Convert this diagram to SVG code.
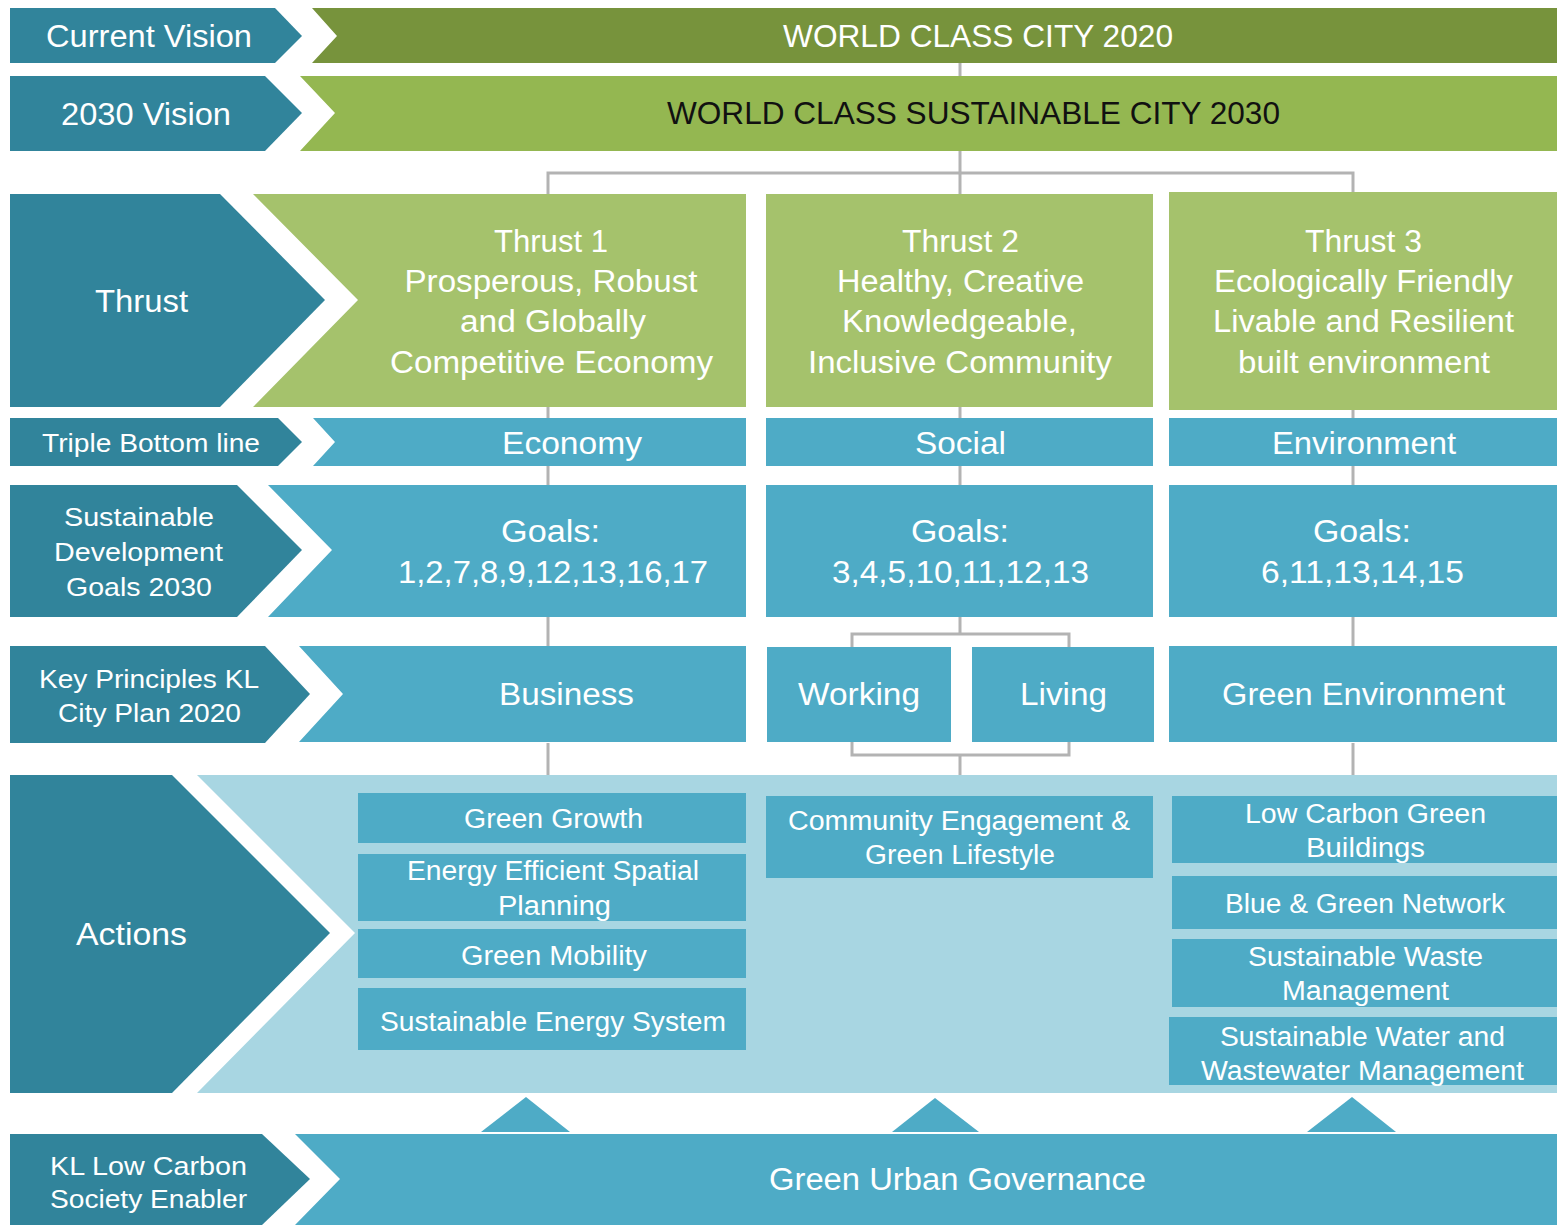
<svg xmlns="http://www.w3.org/2000/svg" width="1557" height="1225" viewBox="0 0 1557 1225">
<style>
.lab{fill:#31849B}
.blue{fill:#4EABC6}
.g1{fill:#77933C}
.g2{fill:#94B751}
.g3{fill:#A5C26C}
.light{fill:#A8D6E2}
.conn{stroke:#B3B3B3;stroke-width:3;fill:none}
text{font-family:"Liberation Sans",Arial,sans-serif;fill:#fff;text-anchor:middle}
.t31{font-size:31px}
.t27{font-size:27px}
.t26{font-size:26px}
.dark{fill:#111}
</style>
<rect width="1557" height="1225" fill="#fff"/>
<g id="connectors">
<path class="conn" d="M960 63V76M960 150V194M548 194V173H1353V194"/>
<path class="conn" d="M548 407V418M960 407V418M1353 407V418"/>
<path class="conn" d="M548 466V485M960 466V485M1353 466V485"/>
<path class="conn" d="M548 617V646M1353 617V646M960 617V634M852 647V634H1069V647"/>
<path class="conn" d="M548 743V775M1353 743V775M852 742V755H1069V742M960 755V775"/>
</g>
<g id="current-vision">
<polygon class="lab" points="10,8 275,8 302,36 275,63 10,63"/>
<text class="t31" x="149" y="47" textLength="206" lengthAdjust="spacingAndGlyphs">Current Vision</text>
</g>
<g id="world-class-2020">
<polygon class="g1" points="312,8 1557,8 1557,63 312,63 337,36"/>
<text class="t31" x="978" y="47" textLength="390" lengthAdjust="spacingAndGlyphs">WORLD CLASS CITY 2020</text>
</g>
<g id="vision-2030">
<polygon class="lab" points="10,76 265,76 302,113 265,151 10,151"/>
<text class="t31" x="146" y="125" textLength="170" lengthAdjust="spacingAndGlyphs">2030 Vision</text>
</g>
<g id="world-class-2030">
<polygon class="g2" points="300,76 1557,76 1557,151 300,151 335,113"/>
<text class="t31 dark" x="973.5" y="124" textLength="613" lengthAdjust="spacingAndGlyphs">WORLD CLASS SUSTAINABLE CITY 2030</text>
</g>
<g id="thrust-label">
<polygon class="lab" points="10,194 220,194 325,300 220,407 10,407"/>
<text class="t31" x="141.5" y="312" textLength="93" lengthAdjust="spacingAndGlyphs">Thrust</text>
</g>
<g id="thrust-1">
<polygon class="g3" points="253,194 746,194 746,407 253,407 358,300"/>
<text class="t31" x="551" y="252" textLength="114" lengthAdjust="spacingAndGlyphs">Thrust 1</text>
<text class="t31" x="551" y="292" textLength="293" lengthAdjust="spacingAndGlyphs">Prosperous, Robust</text>
<text class="t31" x="553" y="332" textLength="186" lengthAdjust="spacingAndGlyphs">and Globally</text>
<text class="t31" x="551.5" y="373" textLength="323" lengthAdjust="spacingAndGlyphs">Competitive Economy</text>
</g>
<g id="thrust-2">
<rect class="g3" x="766" y="194" width="387" height="213"/>
<text class="t31" x="960.5" y="252" textLength="117" lengthAdjust="spacingAndGlyphs">Thrust 2</text>
<text class="t31" x="960.5" y="292" textLength="247" lengthAdjust="spacingAndGlyphs">Healthy, Creative</text>
<text class="t31" x="959.5" y="332" textLength="235" lengthAdjust="spacingAndGlyphs">Knowledgeable,</text>
<text class="t31" x="960" y="373" textLength="304" lengthAdjust="spacingAndGlyphs">Inclusive Community</text>
</g>
<g id="thrust-3">
<rect class="g3" x="1169" y="192" width="388" height="218"/>
<text class="t31" x="1363.5" y="252" textLength="117" lengthAdjust="spacingAndGlyphs">Thrust 3</text>
<text class="t31" x="1363.5" y="292" textLength="299" lengthAdjust="spacingAndGlyphs">Ecologically Friendly</text>
<text class="t31" x="1363.5" y="332" textLength="301" lengthAdjust="spacingAndGlyphs">Livable and Resilient</text>
<text class="t31" x="1364" y="373" textLength="252" lengthAdjust="spacingAndGlyphs">built environment</text>
</g>
<g id="triple-label">
<polygon class="lab" points="10,418 278,418 302,442 278,466 10,466"/>
<text class="t26" x="151" y="452" textLength="218" lengthAdjust="spacingAndGlyphs">Triple Bottom line</text>
</g>
<g id="economy">
<polygon class="blue" points="313,418 746,418 746,466 313,466 335,442"/>
<text class="t31" x="572" y="454" textLength="140" lengthAdjust="spacingAndGlyphs">Economy</text>
</g>
<g id="social">
<rect class="blue" x="766" y="418" width="387" height="48"/>
<text class="t31" x="960.5" y="454" textLength="91" lengthAdjust="spacingAndGlyphs">Social</text>
</g>
<g id="environment">
<rect class="blue" x="1169" y="418" width="388" height="48"/>
<text class="t31" x="1364" y="454" textLength="184" lengthAdjust="spacingAndGlyphs">Environment</text>
</g>
<g id="sdg-label">
<polygon class="lab" points="10,485 237,485 302,550 237,617 10,617"/>
<text class="t26" x="139" y="526" textLength="150" lengthAdjust="spacingAndGlyphs">Sustainable</text>
<text class="t26" x="138.5" y="561" textLength="169" lengthAdjust="spacingAndGlyphs">Development</text>
<text class="t26" x="139" y="596" textLength="146" lengthAdjust="spacingAndGlyphs">Goals 2030</text>
</g>
<g id="goals-economy">
<polygon class="blue" points="268,485 746,485 746,617 268,617 332,550"/>
<text class="t31" x="550.5" y="542" textLength="99" lengthAdjust="spacingAndGlyphs">Goals:</text>
<text class="t31" x="553" y="583" textLength="310" lengthAdjust="spacingAndGlyphs">1,2,7,8,9,12,13,16,17</text>
</g>
<g id="goals-social">
<rect class="blue" x="766" y="485" width="387" height="132"/>
<text class="t31" x="960" y="542" textLength="98" lengthAdjust="spacingAndGlyphs">Goals:</text>
<text class="t31" x="960.5" y="583" textLength="257" lengthAdjust="spacingAndGlyphs">3,4,5,10,11,12,13</text>
</g>
<g id="goals-environment">
<rect class="blue" x="1169" y="485" width="388" height="132"/>
<text class="t31" x="1362" y="542" textLength="98" lengthAdjust="spacingAndGlyphs">Goals:</text>
<text class="t31" x="1362.5" y="583" textLength="203" lengthAdjust="spacingAndGlyphs">6,11,13,14,15</text>
</g>
<g id="key-label">
<polygon class="lab" points="10,646 265,646 310,694 265,743 10,743"/>
<text class="t26" x="149" y="688" textLength="220" lengthAdjust="spacingAndGlyphs">Key Principles KL</text>
<text class="t26" x="149.5" y="722" textLength="183" lengthAdjust="spacingAndGlyphs">City Plan 2020</text>
</g>
<g id="business">
<polygon class="blue" points="299,646 746,646 746,742 299,742 343,694"/>
<text class="t31" x="566.5" y="705" textLength="135" lengthAdjust="spacingAndGlyphs">Business</text>
</g>
<g id="working">
<rect class="blue" x="767" y="647" width="184" height="95"/>
<text class="t31" x="859" y="705" textLength="122" lengthAdjust="spacingAndGlyphs">Working</text>
</g>
<g id="living">
<rect class="blue" x="972" y="647" width="182" height="95"/>
<text class="t31" x="1063.5" y="705" textLength="87" lengthAdjust="spacingAndGlyphs">Living</text>
</g>
<g id="green-environment">
<rect class="blue" x="1169" y="646" width="388" height="96"/>
<text class="t31" x="1363.5" y="705" textLength="283" lengthAdjust="spacingAndGlyphs">Green Environment</text>
</g>
<g id="actions-label">
<polygon class="lab" points="10,775 172,775 330,933 172,1093 10,1093"/>
<text class="t31" x="131.5" y="945" textLength="111" lengthAdjust="spacingAndGlyphs">Actions</text>
</g>
<g id="actions-panel">
<polygon class="light" points="197,775 1557,775 1557,1093 197,1093 355,933"/>
</g>
<g id="green-growth">
<rect class="blue" x="358" y="793" width="388" height="50"/>
<text class="t27" x="553.5" y="828" textLength="179" lengthAdjust="spacingAndGlyphs">Green Growth</text>
</g>
<g id="energy-efficient">
<rect class="blue" x="358" y="854" width="388" height="67"/>
<text class="t27" x="553" y="880" textLength="292" lengthAdjust="spacingAndGlyphs">Energy Efficient Spatial</text>
<text class="t27" x="554.5" y="915" textLength="113" lengthAdjust="spacingAndGlyphs">Planning</text>
</g>
<g id="green-mobility">
<rect class="blue" x="358" y="929" width="388" height="49"/>
<text class="t27" x="554" y="965" textLength="186" lengthAdjust="spacingAndGlyphs">Green Mobility</text>
</g>
<g id="sustainable-energy">
<rect class="blue" x="358" y="988" width="388" height="62"/>
<text class="t27" x="553" y="1031" textLength="346" lengthAdjust="spacingAndGlyphs">Sustainable Energy System</text>
</g>
<g id="community-engagement">
<rect class="blue" x="766" y="796" width="387" height="82"/>
<text class="t27" x="959" y="830" textLength="342" lengthAdjust="spacingAndGlyphs">Community Engagement &amp;</text>
<text class="t27" x="960" y="864" textLength="190" lengthAdjust="spacingAndGlyphs">Green Lifestyle</text>
</g>
<g id="low-carbon-buildings">
<rect class="blue" x="1172" y="796" width="385" height="67"/>
<text class="t27" x="1365.5" y="823" textLength="241" lengthAdjust="spacingAndGlyphs">Low Carbon Green</text>
<text class="t27" x="1365.5" y="857" textLength="119" lengthAdjust="spacingAndGlyphs">Buildings</text>
</g>
<g id="blue-green-network">
<rect class="blue" x="1172" y="876" width="385" height="53"/>
<text class="t27" x="1365" y="913" textLength="280" lengthAdjust="spacingAndGlyphs">Blue &amp; Green Network</text>
</g>
<g id="sustainable-waste">
<rect class="blue" x="1172" y="939" width="385" height="68"/>
<text class="t27" x="1365.5" y="966" textLength="235" lengthAdjust="spacingAndGlyphs">Sustainable Waste</text>
<text class="t27" x="1365.5" y="1000" textLength="167" lengthAdjust="spacingAndGlyphs">Management</text>
</g>
<g id="sustainable-water">
<rect class="blue" x="1169" y="1017" width="388" height="68"/>
<text class="t27" x="1362.5" y="1046" textLength="285" lengthAdjust="spacingAndGlyphs">Sustainable Water and</text>
<text class="t27" x="1362.5" y="1080" textLength="323" lengthAdjust="spacingAndGlyphs">Wastewater Management</text>
</g>
<g id="enabler-arrows">
<polygon class="blue" points="481,1132 526,1097 570,1132"/>
<polygon class="blue" points="892,1132 935,1098 979,1132"/>
<polygon class="blue" points="1307,1132 1352,1097 1396,1132"/>
</g>
<g id="enabler-label">
<polygon class="lab" points="10,1134 262,1134 310,1179 262,1225 10,1225"/>
<text class="t26" x="148.5" y="1175" textLength="197" lengthAdjust="spacingAndGlyphs">KL Low Carbon</text>
<text class="t26" x="148.5" y="1208" textLength="197" lengthAdjust="spacingAndGlyphs">Society Enabler</text>
</g>
<g id="green-urban-governance">
<polygon class="blue" points="295,1134 1557,1134 1557,1225 295,1225 340,1179"/>
<text class="t31" x="957.5" y="1190" textLength="377" lengthAdjust="spacingAndGlyphs">Green Urban Governance</text>
</g>
</svg>
